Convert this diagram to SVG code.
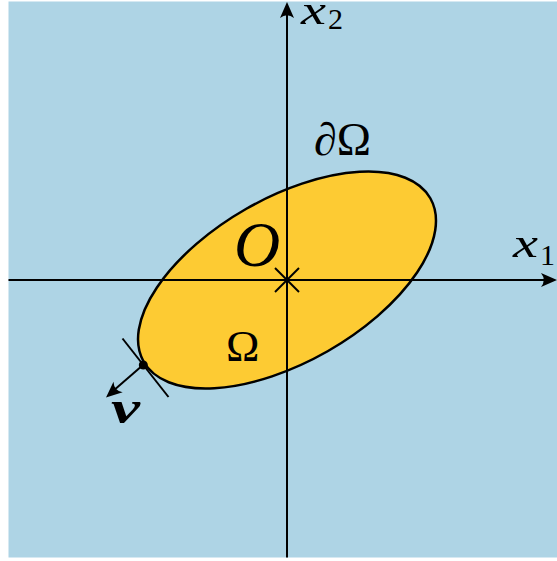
<svg xmlns="http://www.w3.org/2000/svg" width="557" height="561" viewBox="0 0 557 561">
<style>
.ax{stroke:#000;stroke-width:2;fill:none}
.t{font-family:"Liberation Serif","DejaVu Serif",serif;fill:#000}
.it{font-style:italic}
</style>
<defs>
<path id="ah" d="M0,0 L-16,-7 Q-10.5,0 -16,7 Z" fill="#000"/>
</defs>
<rect x="8.5" y="1.5" width="548.5" height="556" fill="#AED4E5"/>
<g id="domain">
<ellipse cx="287" cy="280" rx="165" ry="82" transform="rotate(-29.7 287 280)" fill="#FDCB33" stroke="#000" stroke-width="2.5"/>
</g>
<g id="connectors">
<line class="ax" x1="8.5" y1="280" x2="550" y2="280"/>
<line class="ax" x1="287" y1="557.5" x2="287" y2="8"/>
<use href="#ah" transform="translate(557 280)"/>
<use href="#ah" transform="translate(287 2) rotate(-90)"/>
</g>
<g id="origin">
<line class="ax" x1="275" y1="268" x2="299" y2="292"/>
<line class="ax" x1="275" y1="292" x2="299" y2="268"/>
<text class="t it" x="234" y="266" font-size="64">O</text>
</g>
<g id="normal">
<line class="ax" x1="122.5" y1="338.5" x2="168.5" y2="397"/>
<line class="ax" x1="143" y1="365" x2="113" y2="391"/>
<use href="#ah" transform="translate(106 397.5) rotate(139)" />
<circle cx="143.3" cy="365" r="4.5" fill="#000"/>
<text class="t it" x="111" y="423" font-size="46" font-weight="bold" textLength="29" lengthAdjust="spacingAndGlyphs">ν</text>
</g>
<g id="labels">
<text class="t it" x="301" y="23.5" font-size="42" textLength="25" lengthAdjust="spacingAndGlyphs">x</text>
<text class="t" x="328" y="29" font-size="30">2</text>
<text class="t it" x="513" y="257" font-size="42" textLength="25" lengthAdjust="spacingAndGlyphs">x</text>
<text class="t" x="540" y="265" font-size="30">1</text>
<text class="t" x="314" y="155" font-size="46" textLength="57" lengthAdjust="spacingAndGlyphs"><tspan class="it">∂</tspan>Ω</text>
<text class="t" x="226" y="361" font-size="45">Ω</text>
</g>
</svg>
